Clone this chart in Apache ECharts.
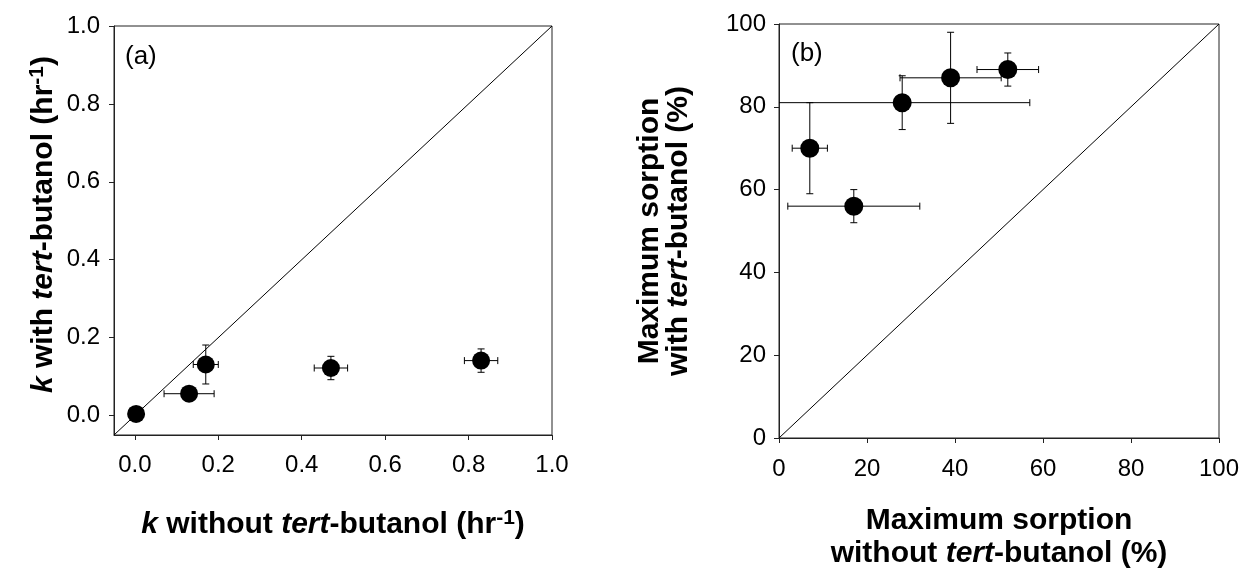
<!DOCTYPE html>
<html>
<head>
<meta charset="utf-8">
<script src="https://cdn.jsdelivr.net/npm/echarts@6/dist/echarts.min.js"></script>
<style>
html,body{margin:0;padding:0;background:#fff;}
#chart{width:1242px;height:569px;}
</style>
</head>
<body>
<div id="chart"></div>
<script>
// Panel (a): rate constants
const aX = [0.003, 0.13, 0.17, 0.47, 0.83];
const aY = [0.004, 0.056, 0.131, 0.122, 0.141];
const aXErr = [0, 0.06, 0.03, 0.04, 0.04];
const aYErr = [0, 0, 0.05, 0.03, 0.03];
const aTicks = [0, 0.2, 0.4, 0.6, 0.8, 1.0];
const aDiag = [[-0.05, -0.05], [1, 1]];

// Panel (b): maximum sorption (%)
const bX = [7, 17, 28, 39, 52];
const bY = [70, 56, 81, 87, 89];
const bXErr = [4, 15, 29, 11.5, 7];
const bYErr = [11, 4, 6.5, 11, 4];
const bTicks = [0, 20, 40, 60, 80, 100];
const bDiag = [[0, 0], [100, 100]];

const FONT = "'Liberation Sans', Arial, sans-serif";
const INK = '#222';
const TICK_FS = 24;
const NAME_FS = 30;

function pts(xs, ys) { return xs.map((x, i) => [x, ys[i]]); }
function errs(xs, ys, ex, ey) { return xs.map((x, i) => [x, ys[i], ex[i], ey[i]]); }

function errRender(params, api) {
  const x = api.value(0), y = api.value(1), ex = api.value(2), ey = api.value(3);
  const cap = 3.5;
  const st = { stroke: '#000', lineWidth: 1 };
  const ch = [];
  if (ex > 0) {
    const l = api.coord([x - ex, y]), r = api.coord([x + ex, y]);
    ch.push({ type: 'line', shape: { x1: l[0], y1: l[1], x2: r[0], y2: r[1] }, style: st });
    ch.push({ type: 'line', shape: { x1: l[0], y1: l[1] - cap, x2: l[0], y2: l[1] + cap }, style: st });
    ch.push({ type: 'line', shape: { x1: r[0], y1: r[1] - cap, x2: r[0], y2: r[1] + cap }, style: st });
  }
  if (ey > 0) {
    const t = api.coord([x, y + ey]), b = api.coord([x, y - ey]);
    ch.push({ type: 'line', shape: { x1: t[0], y1: t[1], x2: b[0], y2: b[1] }, style: st });
    ch.push({ type: 'line', shape: { x1: t[0] - cap, y1: t[1], x2: t[0] + cap, y2: t[1] }, style: st });
    ch.push({ type: 'line', shape: { x1: b[0] - cap, y1: b[1], x2: b[0] + cap, y2: b[1] }, style: st });
  }
  return { type: 'group', children: ch };
}

const nameRich = {
  i: { fontStyle: 'italic', fontWeight: 'bold', fontSize: NAME_FS, fontFamily: FONT, color: '#000' },
  s: { fontWeight: 'bold', fontSize: 21, fontFamily: FONT, color: '#000', verticalAlign: 'top', padding: [0, 0, 12, 0] }
};
const nameStyle = { fontSize: NAME_FS, fontWeight: 'bold', fontFamily: FONT, color: '#000', rich: nameRich };

function axisCommon(ticks, fmt, margin) {
  return {
    axisLine: { show: true, onZero: false, lineStyle: { color: INK, width: 1 } },
    axisTick: { show: true, inside: false, length: 5, lineStyle: { color: INK }, customValues: ticks },
    axisLabel: { show: true, customValues: ticks, formatter: fmt, fontSize: TICK_FS, fontFamily: FONT, color: '#000', margin: margin },
    splitLine: { show: false }
  };
}
const fmtA = v => Number(v).toFixed(1);
const fmtB = v => String(Math.round(v));

const option = {
  animation: false,
  backgroundColor: '#fff',
  title: [
    { text: '(a)', left: 120, top: 39, textStyle: { fontSize: 26, fontWeight: 'normal', fontFamily: FONT, color: '#000' } },
    { text: '(b)', left: 786, top: 36, textStyle: { fontSize: 26, fontWeight: 'normal', fontFamily: FONT, color: '#000' } }
  ],
  grid: [
    { left: 114, top: 26, width: 438, height: 409, show: true, borderColor: INK, borderWidth: 1, backgroundColor: 'transparent', containLabel: false, outerBoundsMode: 'none' },
    { left: 779, top: 24, width: 440, height: 414, show: true, borderColor: INK, borderWidth: 1, backgroundColor: 'transparent', containLabel: false, outerBoundsMode: 'none' }
  ],
  xAxis: [
    Object.assign({
      type: 'value', gridIndex: 0, min: -0.05, max: 1,
      name: '{i|k} without {i|tert}-butanol (hr{s|-1})', nameLocation: 'middle', nameGap: 73,
      nameTextStyle: nameStyle
    }, axisCommon(aTicks, fmtA, 18)),
    Object.assign({
      type: 'value', gridIndex: 1, min: 0, max: 100, interval: 20,
      name: 'Maximum sorption\nwithout {i|tert}-butanol (%)', nameLocation: 'middle', nameGap: 66,
      nameTextStyle: Object.assign({}, nameStyle, { lineHeight: 33 })
    }, axisCommon(bTicks, fmtB, 19))
  ],
  yAxis: [
    Object.assign({
      type: 'value', gridIndex: 0, min: -0.05, max: 1,
      name: '{i|k} with {i|tert}-butanol (hr{s|-1})', nameLocation: 'middle', nameGap: 54, nameRotate: 90,
      nameTextStyle: Object.assign({}, nameStyle, { padding: [0, 0, 0, 12] })
    }, axisCommon(aTicks, fmtA, 14)),
    Object.assign({
      type: 'value', gridIndex: 1, min: 0, max: 100, interval: 20,
      name: 'Maximum sorption\nwith {i|tert}-butanol (%)', nameLocation: 'middle', nameGap: 86, nameRotate: 90,
      nameTextStyle: Object.assign({}, nameStyle, { lineHeight: 29 })
    }, axisCommon(bTicks, fmtB, 13))
  ],
  series: [
    { type: 'line', xAxisIndex: 0, yAxisIndex: 0, data: aDiag, symbol: 'none', lineStyle: { color: '#000', width: 1 }, z: 1 },
    { type: 'custom', xAxisIndex: 0, yAxisIndex: 0, data: errs(aX, aY, aXErr, aYErr), renderItem: errRender, clip: true, z: 2 },
    { type: 'scatter', xAxisIndex: 0, yAxisIndex: 0, data: pts(aX, aY), symbol: 'circle', symbolSize: 18, itemStyle: { color: '#000', opacity: 1 }, z: 3 },
    { type: 'line', xAxisIndex: 1, yAxisIndex: 1, data: bDiag, symbol: 'none', lineStyle: { color: '#000', width: 1 }, z: 1 },
    { type: 'custom', xAxisIndex: 1, yAxisIndex: 1, data: errs(bX, bY, bXErr, bYErr), renderItem: errRender, clip: true, z: 2 },
    { type: 'scatter', xAxisIndex: 1, yAxisIndex: 1, data: pts(bX, bY), symbol: 'circle', symbolSize: 19, itemStyle: { color: '#000', opacity: 1 }, z: 3 }
  ]
};

const chart = echarts.init(document.getElementById('chart'), null, { renderer: 'canvas' });
chart.setOption(option);
</script>
</body>
</html>
